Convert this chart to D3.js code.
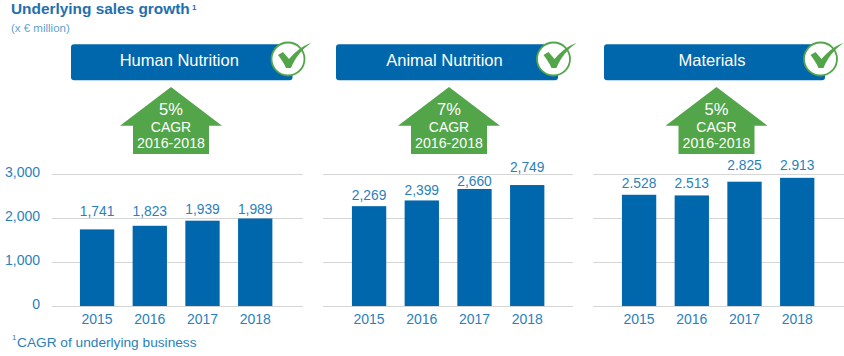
<!DOCTYPE html>
<html>
<head>
<meta charset="utf-8">
<script src="https://cdn.jsdelivr.net/npm/d3@7"></script>
<style>
  html, body { margin: 0; padding: 0; background: #fff; }
  svg { display: block; }
  text { font-family: "Liberation Sans", sans-serif; }
</style>
</head>
<body>
<svg id="chart"></svg>
<script>
const years = ['2015', '2016', '2017', '2018'];
const yTicks = [0, 1000, 2000, 3000];
const segments = ['Human Nutrition', 'Animal Nutrition', 'Materials'];
const cagr = ['5%', '7%', '5%'];
const humanValues = [1741, 1823, 1939, 1989];
const animalValues = [2269, 2399, 2660, 2749];
const materialsValues = [2528, 2513, 2825, 2913];
const humanLabels = ['1,741', '1,823', '1,939', '1,989'];
const animalLabels = ['2,269', '2,399', '2,660', '2,749'];
const materialsLabels = ['2.528', '2.513', '2.825', '2.913'];

const BLUE = '#0067ac';
const TEXT_BLUE = '#2a7fbd';
const GREEN = '#52a548';
const GRID = '#d4d6d6';

const width = 844, height = 356;
const svg = d3.select('#chart').attr('width', width).attr('height', height);

// same y scale for all three panels
const y = d3.scaleLinear().domain([0, 3000]).range([306, 174]);

// labelGap: the value labels sit unevenly above the bars in the original
const panels = [
  { name: segments[0], cagr: cagr[0], values: humanValues, labels: humanLabels, gridLeft: 52, gridRight: 303, barLeft: 52, bannerLeft: 71, bannerRight: 292.5, arrowX: 171, labelGap: [13.4, 9.8, 6.7, 4.5] },
  { name: segments[1], cagr: cagr[1], values: animalValues, labels: animalLabels, gridLeft: 323, gridRight: 573, barLeft: 324, bannerLeft: 336, bannerRight: 558, arrowX: 449, labelGap: [6.2, 5.4, 3.3, 13.3] },
  { name: segments[2], cagr: cagr[2], values: materialsValues, labels: materialsLabels, gridLeft: 593, gridRight: 844, barLeft: 594, bannerLeft: 604, bannerRight: 825, arrowX: 716.5, labelGap: [6.5, 7.1, 11.7, 7.8] }
];

// title block
svg.append('text').attr('x', 11).attr('y', 13.5)
  .attr('font-size', 15.4).attr('font-weight', 'bold').attr('fill', '#1f6fb0')
  .text('Underlying sales growth');
svg.append('text').attr('x', 192).attr('y', 10)
  .attr('font-size', 8).attr('font-weight', 'bold').attr('fill', '#1f6fb0')
  .text('1');
svg.append('text').attr('x', 11).attr('y', 32)
  .attr('font-size', 11.5).attr('fill', '#5f9fd0')
  .text('(x € million)');

panels.forEach((p, i) => {
  const g = svg.append('g');

  const x = d3.scaleBand().domain(years)
    .range([p.barLeft, p.barLeft + 248.3])
    .paddingInner(0.349).paddingOuter(0.53);

  // gridlines + tick labels
  const yAxis = d3.axisLeft(y).tickValues(yTicks)
    .tickSize(-(p.gridRight - p.gridLeft))
    .tickFormat(i === 0 ? d3.format(',') : '');
  const yG = g.append('g').attr('transform', `translate(${p.gridLeft},0)`).call(yAxis);
  yG.select('.domain').remove();
  yG.selectAll('line').attr('stroke', GRID).attr('stroke-width', 1.2);
  yG.selectAll('text').attr('x', -12).attr('dy', '0.2em').attr('font-size', 14).attr('fill', TEXT_BLUE)
    .attr('font-family', '"Liberation Sans", sans-serif');

  // bars
  g.selectAll('rect.bar').data(p.values).enter().append('rect')
    .attr('class', 'bar')
    .attr('x', (d, j) => x(years[j]))
    .attr('y', d => y(d))
    .attr('width', x.bandwidth())
    .attr('height', d => y(0) - y(d))
    .attr('fill', BLUE);

  // value labels
  g.selectAll('text.val').data(p.labels).enter().append('text')
    .attr('class', 'val')
    .attr('x', (d, j) => x(years[j]) + x.bandwidth() / 2)
    .attr('y', (d, j) => y(p.values[j]) - p.labelGap[j])
    .attr('text-anchor', 'middle')
    .attr('font-size', 13.8).attr('fill', TEXT_BLUE)
    .text(d => d);

  // year labels
  const xAxis = d3.axisBottom(x).tickSize(0).tickPadding(8);
  const xG = g.append('g').attr('transform', `translate(0,${y(0)})`).call(xAxis);
  xG.select('.domain').remove();
  xG.selectAll('text').attr('font-size', 14).attr('fill', TEXT_BLUE)
    .attr('font-family', '"Liberation Sans", sans-serif');

  // banner
  g.append('rect')
    .attr('x', p.bannerLeft).attr('y', 44.3)
    .attr('width', p.bannerRight - p.bannerLeft).attr('height', 36)
    .attr('rx', 3).attr('fill', BLUE);
  g.append('text')
    .attr('x', (p.bannerLeft + p.bannerRight) / 2 - 2.5).attr('y', 66)
    .attr('text-anchor', 'middle').attr('font-size', 16.5)
    .attr('fill', '#fff').text(p.name);

  // check mark badge
  const cx = p.bannerRight - 4.5, cy = 59;
  const badge = g.append('g').attr('transform', `translate(${cx},${cy})`);
  badge.append('circle').attr('r', 16.5)
    .attr('fill', '#fff').attr('stroke', GREEN).attr('stroke-width', 1.8);
  badge.append('path')
    .attr('d', 'M-10,-4 L-5,-7 L1,0 C7,-7 14,-13 23,-16 C14,-10 7,-1 3,9 L-2,9 C-4,4 -7,0 -10,-4 Z')
    .attr('fill', GREEN);

  // CAGR arrow
  const a = p.arrowX;
  g.append('path')
    .attr('d', `M${a},87 L${a + 51},125.7 L${a + 38},125.7 L${a + 38},154 L${a - 38},154 L${a - 38},125.7 L${a - 51},125.7 Z`)
    .attr('fill', GREEN);
  [[p.cagr, 114.7, 16.5], ['CAGR', 131.5, 14], ['2016-2018', 148, 14.2]].forEach(t => {
    g.append('text').attr('x', a).attr('y', t[1])
      .attr('text-anchor', 'middle').attr('font-size', t[2])
      .attr('fill', '#fff').text(t[0]);
  });
});

// footnote
svg.append('text').attr('x', 12).attr('y', 340)
  .attr('font-size', 8).attr('fill', TEXT_BLUE).text('1');
svg.append('text').attr('x', 17).attr('y', 347)
  .attr('font-size', 13.7).attr('fill', TEXT_BLUE).text('CAGR of underlying business');
</script>
</body>
</html>
